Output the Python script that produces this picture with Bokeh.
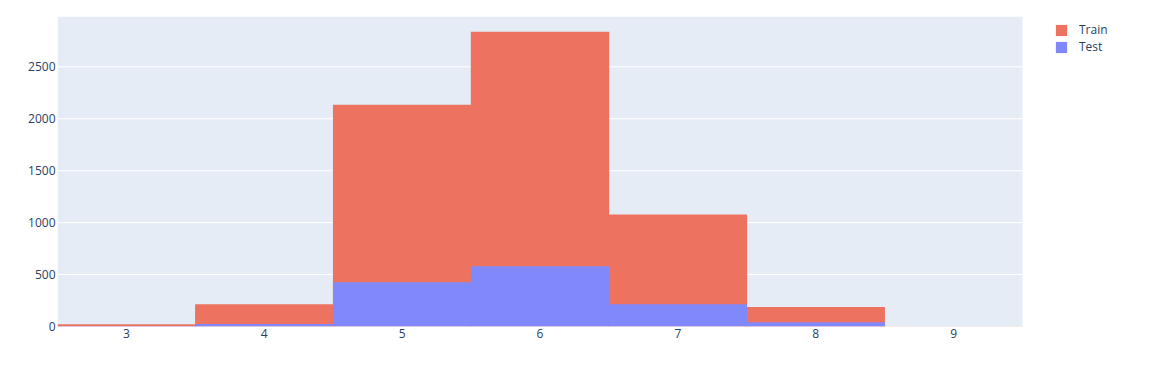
from bokeh.plotting import figure
from bokeh.models import Legend, LegendItem, FixedTicker, Range1d, BoxAnnotation
from bokeh.embed import file_html
from bokeh.resources import INLINE

bins = [3, 4, 5, 6, 7, 8, 9]
train = [22, 214, 2135, 2837, 1078, 188, 3]
test = [4, 24, 425, 579, 214, 41, 0]
y_ticks = [0, 500, 1000, 1500, 2000, 2500]

X0, X1 = 2.5, 9.5
data_px = 965.0
frame_w = 1091
x_end = X0 + frame_w * (X1 - X0) / data_px

p = figure(frame_width=frame_w, frame_height=310, output_backend="svg", toolbar_location=None,
           x_range=Range1d(X0, x_end), y_range=Range1d(0, 2985),
           min_border_left=57, min_border_right=0, min_border_top=16, min_border_bottom=42)
p.background_fill_color = "white"
p.border_fill_color = "white"
p.outline_line_color = None

p.add_layout(BoxAnnotation(left=X0, right=X1, fill_color="#E5ECF6", fill_alpha=1.0,
                           line_color=None, level="underlay"))
p.segment(x0=[X0] * len(y_ticks), x1=[X1] * len(y_ticks), y0=y_ticks, y1=y_ticks,
          line_color="white", line_width=1)

r_train = p.vbar(x=bins, top=train, width=1.004, bottom=0, fill_color="#ED7360", line_color=None)
r_test = p.vbar(x=bins, top=test, width=1.004, bottom=0, fill_color="#8088FA", line_color=None)

p.xgrid.grid_line_color = None
p.ygrid.grid_line_color = None
p.yaxis.ticker = FixedTicker(ticks=y_ticks)
p.xaxis.ticker = FixedTicker(ticks=bins)
for ax in (p.xaxis, p.yaxis):
    ax.axis_line_color = None
    ax.major_tick_line_color = None
    ax.minor_tick_line_color = None
    ax.major_tick_out = 0
    ax.major_tick_in = 0
    ax.major_label_text_font = "Open Sans"
    ax.major_label_text_font_size = "12px"
    ax.major_label_text_color = "#2a3f5f"
p.yaxis.major_label_standoff = 2
p.xaxis.major_label_standoff = 2

legend = Legend(items=[LegendItem(label="Train", renderers=[r_train]),
                       LegendItem(label="Test", renderers=[r_test])],
                location=(997, 271), orientation="vertical",
                glyph_width=14, glyph_height=14, label_height=12, spacing=0,
                label_standoff=11, padding=7, margin=0,
                border_line_color=None, background_fill_alpha=0,
                label_text_font="Open Sans", label_text_font_size="12px",
                label_text_color="#2a3f5f")
p.add_layout(legend, "center")

open("out.html", "w").write(file_html(p, INLINE))
